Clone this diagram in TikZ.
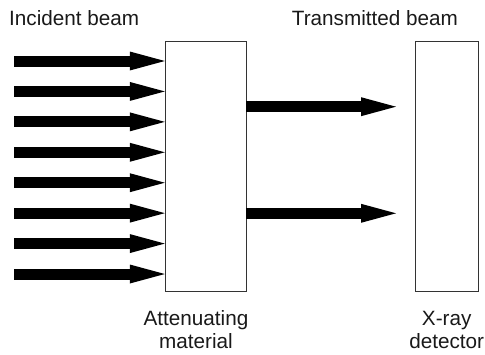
\documentclass[tikz,border=0pt]{standalone}
\usepackage{fontspec}
\setmainfont{Liberation Sans}
\usetikzlibrary{arrows.meta}
\begin{document}
\begin{tikzpicture}[x=1pt,y=-1pt,
  box/.style={draw=black!80, line width=1pt, fill=white},
  beam/.style={line width=11pt, line cap=butt, -{Triangle[length=35pt,width=19pt,line width=0pt]}},
  lbl/.style={inner sep=0pt, font=\fontsize{20.7}{22.6}\selectfont, text=black!90}]
\useasboundingbox (0,0) rectangle (485,354);
\draw[box] (165,41) rectangle (246,291.5);
\draw[box] (415,41) rectangle (478.7,291.5);
\node[inner sep=0pt, minimum width=81pt, minimum height=250.5pt] (mat) at (205.5,166.25) {};
\node[inner sep=0pt, minimum width=63.7pt, minimum height=250.5pt] (det) at (446.85,166.25) {};
\foreach \i in {0,...,7} {
  \coordinate (s\i) at (14,{61+30.43*\i});
  \draw[beam] (s\i) -- (s\i -| mat.west);
}
\coordinate (t1) at (396,106.7);
\coordinate (t2) at (396,213.3);
\draw[beam] (t1 -| mat.east) -- (t1);
\draw[beam] (t2 -| mat.east) -- (t2);
\node[lbl, anchor=base west] (inc) at (9,25) {Incident beam};
\node[lbl, anchor=base west] (tra) at (291.7,25) {Transmitted beam};
\node[lbl, anchor=base, align=center] (att) at (196,348.3) {Attenuating\\material};
\node[lbl, anchor=base, align=center] (xr) at (446.7,348.3) {X-ray\\detector};
\end{tikzpicture}
\end{document}
